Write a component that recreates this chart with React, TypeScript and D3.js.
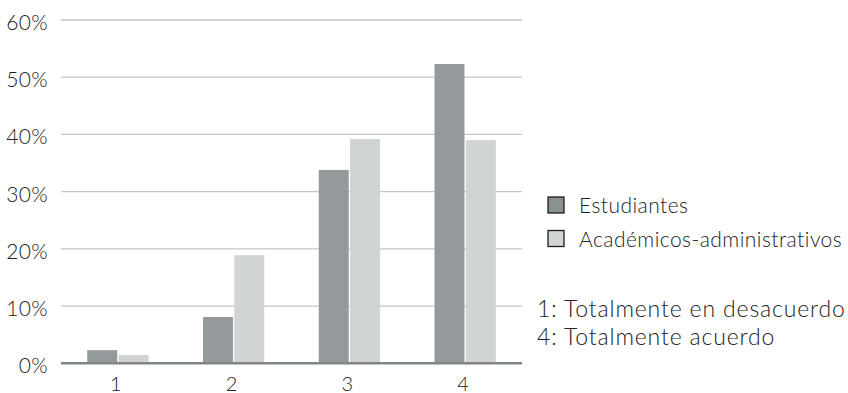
import React from "react";
import * as d3 from "d3";

const categories = ["1", "2", "3", "4"];
const seriesNames = ["Estudiantes", "Académicos-administrativos"];
const estudiantes = [2.3, 8.1, 33.8, 52.3];
const academicos = [1.45, 18.9, 39.2, 39.0];
const yTicks = [0, 10, 20, 30, 40, 50, 60];
const notes = ["1: Totalmente en desacuerdo", "4: Totalmente acuerdo"];

const W = 848;
const H = 393;
const FONT = "Lato, 'Open Sans', sans-serif";
const TEXT = "#222222";
const COLORS = ["#949a9b", "#d1d4d5"];
const LEGEND_FILL = ["#8a9191", "#d0d4d4"];

export default function App() {
  const left = 61;
  const right = 522;
  const y = d3.scaleLinear().domain([0, 60]).range([363.3, 20]);
  const x = d3.scaleBand<string>().domain(categories).range([left - 1, right + 1]).padding(0);
  const barW = 30;
  const gap = 1.3;
  const series = [estudiantes, academicos];

  return (
    <svg
      width={W}
      height={H}
      style={{ position: "absolute", left: 0, top: 0, background: "#fff" }}
      fontFamily={FONT}
      fontWeight={300}
    >
      {/* horizontal gridlines and y labels */}
      {yTicks.map((t) => (
        <g key={t}>
          {t !== 0 && (
            <line x1={left} x2={right} y1={y(t)} y2={y(t)} stroke="#c3c7c7" strokeWidth={1.3} />
          )}
          <text x={48} y={y(t) + 10} textAnchor="end" fontSize={21} fill={TEXT} letterSpacing={0.3}>
            {t}%
          </text>
        </g>
      ))}

      {/* bars */}
      {categories.map((c, i) => {
        const cx = (x(c) as number) + x.bandwidth() / 2;
        return (
          <g key={c}>
            {series.map((s, k) => {
              const x0 = k === 0 ? cx - barW - gap / 2 : cx + gap / 2;
              return (
                <rect
                  key={k}
                  x={x0}
                  y={y(s[i])}
                  width={barW}
                  height={y(0) - y(s[i])}
                  fill={COLORS[k]}
                />
              );
            })}
            <text x={cx - 2} y={390.5} textAnchor="middle" fontSize={20} fill={TEXT}>
              {c}
            </text>
          </g>
        );
      })}

      {/* baseline */}
      <line x1={left} x2={right} y1={y(0)} y2={y(0)} stroke="#7e8584" strokeWidth={2.4} />

      {/* legend */}
      {seriesNames.map((name, k) => (
        <g key={name} transform={`translate(0, ${k * 33.5})`}>
          <rect x={548} y={197} width={16} height={16} fill={LEGEND_FILL[k]} stroke="#1e1e1e" strokeWidth={1.3} />
          <text x={579} y={213} fontSize={21} fill={TEXT} letterSpacing={0.45}>
            {name}
          </text>
        </g>
      ))}

      {/* scale notes */}
      {notes.map((n, k) => (
        <text key={n} x={537} y={317} dy={k * 28.3} fontSize={23} fill={TEXT} letterSpacing={0.85}>
          {n}
        </text>
      ))}
    </svg>
  );
}
